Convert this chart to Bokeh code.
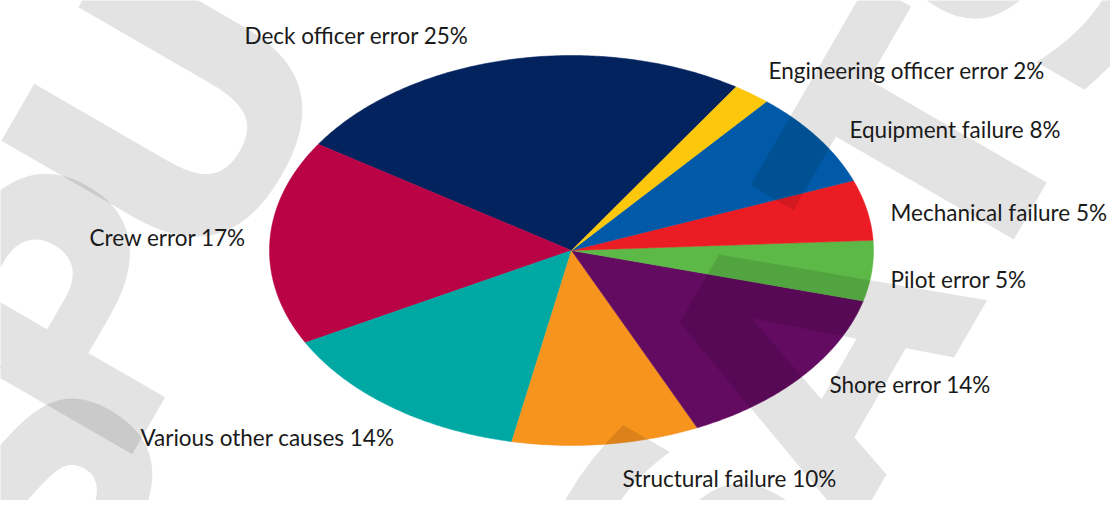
import math
from bokeh.plotting import figure
from bokeh.models import ColumnDataSource, Range1d
from bokeh.core.properties import value
from bokeh.embed import file_html
from bokeh.resources import INLINE

# ---- data (counter-clockwise order, starting at the top-right) ----
causes = ["Deck officer error", "Crew error", "Various other causes",
          "Structural failure", "Shore error", "Pilot error",
          "Mechanical failure", "Equipment failure", "Engineering officer error"]
shares = [25, 17, 14, 10, 14, 5, 5, 8, 2]
colors = ["#03235e", "#b90345", "#00a8a4", "#f7941e", "#620b60",
          "#5cb947", "#ec1c24", "#005aa7", "#fdc70c"]

# ---- layout (page pixels, y measured from the top) ----
W, H = 1110, 500
CX, CY = 571, 250          # pie centre
RX, RY = 302, 195          # elliptical radii
START = 57.0               # degrees, where the first slice begins

label_pos = [(244, 35), (89, 237), (140, 437), (622, 478), (829, 384),
             (890, 279), (890, 212), (849, 129), (768, 70)]

wm_letters = ["S", "P", "U", "S", "A", "T", "S"]
wm_pos = [(22, 475), (75, 310), (172, 112), (690, 560), (815, 355),
          (925, 150), (1040, -50)]

def fy(y):
    return H - y

p = figure(width=W, height=H, output_backend="svg", toolbar_location=None,
           x_range=Range1d(0, W), y_range=Range1d(0, H),
           min_border=0, outline_line_color=None)
p.axis.visible = False
p.grid.visible = False
p.background_fill_color = "white"
p.border_fill_color = "white"

total = float(sum(shares))
xs, ys = [], []
a0 = math.radians(START)
for v in shares:
    a1 = a0 + 2 * math.pi * v / total
    n = max(8, int(v * 6))
    px, py = [CX], [fy(CY)]
    for i in range(n + 1):
        t = a0 + (a1 - a0) * i / n
        px.append(CX + RX * math.cos(t))
        py.append(fy(CY) + RY * math.sin(t))
    xs.append(px)
    ys.append(py)
    a0 = a1

src = ColumnDataSource(dict(xs=xs, ys=ys, color=colors))
p.patches("xs", "ys", source=src, fill_color="color", line_color="color",
          line_width=0.5)

# ---- watermark (semi-transparent, drawn over the pie) ----
wm = ColumnDataSource(dict(x=[q[0] for q in wm_pos],
                           y=[fy(q[1]) for q in wm_pos], t=wm_letters))
p.text("x", "y", text="t", source=wm, angle=math.radians(60),
       text_font=value("DejaVu Sans"), text_font_style="bold",
       text_font_size="350px", text_color="black", text_alpha=0.11,
       text_align="center", text_baseline="middle")

# ---- labels ----
labels = [f"{c} {v}%" for c, v in zip(causes, shares)]
lsrc = ColumnDataSource(dict(x=[q[0] for q in label_pos],
                             y=[fy(q[1]) for q in label_pos], t=labels))
p.text("x", "y", text="t", source=lsrc, text_font=value("Lato"),
       text_font_size="22.5px", text_color="#1a1a1a",
       text_align="left", text_baseline="middle")

open("out.html", "w").write(file_html(p, INLINE))
